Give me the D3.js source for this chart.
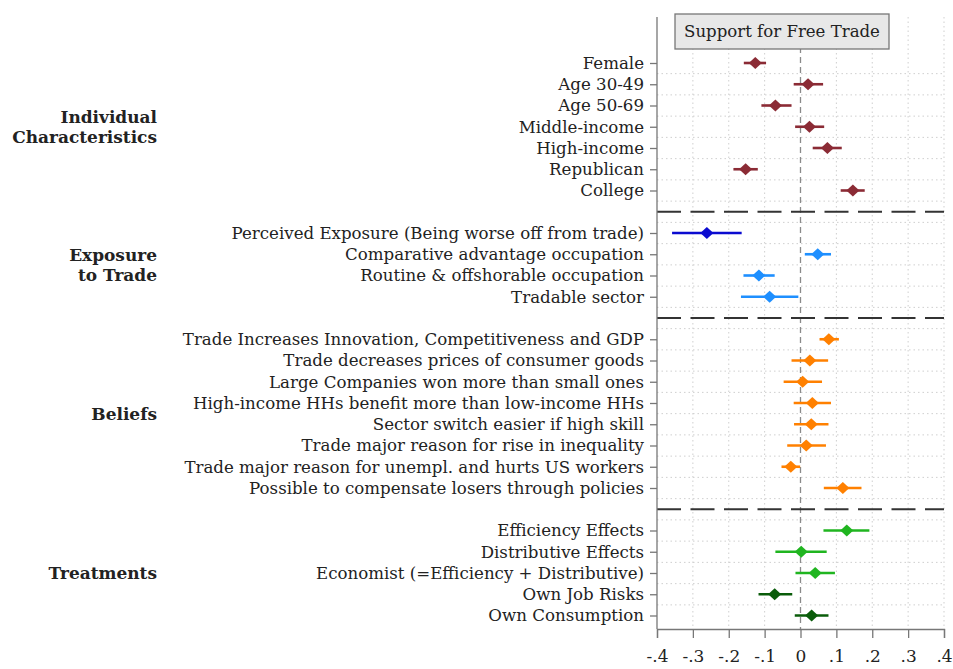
<!DOCTYPE html>
<html><head><meta charset="utf-8">
<script src="https://cdn.jsdelivr.net/npm/d3@7"></script>
<style>body{margin:0;background:#fff}svg{display:block}</style>
</head><body>
<script>
// ---- data ----
const groups = ["Individual Characteristics","Exposure to Trade","Beliefs","Treatments"];
const groupLines = [["Individual","Characteristics"],["Exposure","to Trade"],["Beliefs"],["Treatments"]];
const labels = [
 ["Female","Age 30-49","Age 50-69","Middle-income","High-income","Republican","College"],
 ["Perceived Exposure (Being worse off from trade)","Comparative advantage occupation","Routine & offshorable occupation","Tradable sector"],
 ["Trade Increases Innovation, Competitiveness and GDP","Trade decreases prices of consumer goods","Large Companies won more than small ones","High-income HHs benefit more than low-income HHs","Sector switch easier if high skill","Trade major reason for rise in inequality","Trade major reason for unempl. and hurts US workers","Possible to compensate losers through policies"],
 ["Efficiency Effects","Distributive Effects","Economist (=Efficiency + Distributive)","Own Job Risks","Own Consumption"]
];
const estimates = [
 [-0.126, 0.021, -0.070, 0.025, 0.075, -0.153, 0.146],
 [-0.261, 0.048, -0.116, -0.086],
 [0.079, 0.026, 0.006, 0.033, 0.030, 0.016, -0.027, 0.118],
 [0.129, 0.002, 0.041, -0.072, 0.031]
];
const ciLow = [
 [-0.158, -0.019, -0.109, -0.015, 0.034, -0.187, 0.112],
 [-0.358, 0.012, -0.159, -0.166],
 [0.053, -0.025, -0.047, -0.019, -0.018, -0.037, -0.053, 0.065],
 [0.064, -0.070, -0.014, -0.117, -0.016]
];
const ciHigh = [
 [-0.096, 0.063, -0.025, 0.066, 0.115, -0.119, 0.179],
 [-0.164, 0.085, -0.072, -0.006],
 [0.107, 0.077, 0.060, 0.085, 0.078, 0.071, -0.001, 0.170],
 [0.192, 0.073, 0.096, -0.023, 0.078]
];
const colorKeys = [
 ["ind","ind","ind","ind","ind","ind","ind"],
 ["perc","exp","exp","exp"],
 ["bel","bel","bel","bel","bel","bel","bel","bel"],
 ["trt","trt","trt","own","own"]
];
const palette = {ind:"#8b2b35", perc:"#0b0bd0", exp:"#1e8fff", bel:"#ff8000", trt:"#20b520", own:"#0a5c0a"};
const xTicks = [-0.4,-0.3,-0.2,-0.1,0,0.1,0.2,0.3,0.4];
const xTickLabels = ["-.4","-.3","-.2","-.1","0",".1",".2",".3",".4"];
const title = "Support for Free Trade";

// ---- build rows with slots (separators take one slot) ----
const rows = [], seps = [], groupSlots = [];
let slot = 0;
labels.forEach((g, gi) => {
  const start = slot;
  g.forEach((lab, i) => {
    rows.push({label: lab, est: estimates[gi][i], lo: ciLow[gi][i], hi: ciHigh[gi][i], color: palette[colorKeys[gi][i]], slot});
    slot++;
  });
  groupSlots.push((start + slot - 1) / 2);
  if (gi < labels.length - 1) { seps.push(slot); slot++; }
});
const nSlots = slot; // 27

const W = 953, H = 669;
const plotL = 657, plotR = 944, plotT = 17, plotB = 629;
const x = d3.scaleLinear().domain([-0.4, 0.4]).range([plotL, plotR]);
const y = d3.scaleLinear().domain([0, nSlots - 1]).range([63, 615.5]);

const svg = d3.select("body").append("svg").attr("width", W).attr("height", H);
const serif = "'DejaVu Serif','Liberation Serif',serif";

// font size fitted to a target text width
function fitSize(str, target, weight) {
  const t = svg.append("text").attr("font-family", serif).attr("font-size", 20).attr("font-weight", weight || "normal").text(str);
  const w = t.node().getComputedTextLength();
  t.remove();
  return 20 * target / w;
}
const labelSize = fitSize(labels[1][0], 413);
const groupSize = fitSize("Characteristics", 145, "bold");
const titleSize = fitSize(title, 196);

// vertical grid
svg.append("g").selectAll("line").data(xTicks.filter(t => t !== 0 && t !== -0.4)).join("line")
  .attr("x1", d => x(d)).attr("x2", d => x(d)).attr("y1", plotT).attr("y2", plotB)
  .attr("stroke", "#cfcfcf").attr("stroke-width", 1).attr("stroke-dasharray", "1.5,3");
// horizontal grid at half slots
const halfSlots = d3.range(0, nSlots - 1).map(s => s + 0.5);
svg.append("g").selectAll("line").data(halfSlots).join("line")
  .attr("x1", plotL).attr("x2", plotR).attr("y1", d => y(d)).attr("y2", d => y(d))
  .attr("stroke", "#cfcfcf").attr("stroke-width", 1).attr("stroke-dasharray", "1.5,3");
// zero line
svg.append("line").attr("x1", x(0)).attr("x2", x(0)).attr("y1", plotT).attr("y2", plotB)
  .attr("stroke", "#8a8a8a").attr("stroke-width", 1.3).attr("stroke-dasharray", "6,4");

// separators
svg.append("g").selectAll("line").data(seps).join("line")
  .attr("x1", plotL).attr("x2", plotR).attr("y1", d => y(d)).attr("y2", d => y(d))
  .attr("stroke", "#333").attr("stroke-width", 2).attr("stroke-dasharray", "24,9.5");

// axes
const xAxis = d3.axisBottom(x).tickValues(xTicks).tickFormat((d, i) => xTickLabels[i]).tickSize(9).tickPadding(12);
const gx = svg.append("g").attr("transform", `translate(0,${plotB})`).call(xAxis);
gx.select(".domain").attr("stroke", "#777").attr("stroke-width", 1.3);
gx.selectAll(".tick line").attr("stroke", "#777").attr("stroke-width", 1.3);
gx.selectAll(".tick text").attr("font-family", serif).attr("font-size", labelSize * 1.02).attr("fill", "#222");

const yAxis = d3.axisLeft(y).tickValues(rows.map(r => r.slot)).tickFormat((d) => rows.find(r => r.slot === d).label).tickSize(7).tickPadding(6);
const gy = svg.append("g").attr("transform", `translate(${plotL},0)`).call(yAxis);
gy.select(".domain").attr("d", `M0,${plotT}V${plotB}`).attr("stroke", "#777").attr("stroke-width", 1.3);
gy.selectAll(".tick line").attr("stroke", "#777").attr("stroke-width", 1.3);
gy.selectAll(".tick text").attr("font-family", serif).attr("font-size", labelSize).attr("fill", "#222");

// CIs and markers
const marks = svg.append("g");
marks.selectAll("line").data(rows).join("line")
  .attr("x1", d => x(d.lo)).attr("x2", d => x(d.hi)).attr("y1", d => y(d.slot)).attr("y2", d => y(d.slot))
  .attr("stroke", d => d.color).attr("stroke-width", 2.6);
marks.selectAll("path").data(rows).join("path")
  .attr("d", d => { const cx = x(d.est), cy = y(d.slot); return `M${cx-6.5},${cy}L${cx},${cy-6}L${cx+6.5},${cy}L${cx},${cy+6}Z`; })
  .attr("fill", d => d.color);

// group labels
groupLines.forEach((lines, gi) => {
  const cy = y(groupSlots[gi]);
  const t = svg.append("text").attr("x", 157).attr("text-anchor", "end")
    .attr("font-family", serif).attr("font-weight", "bold").attr("font-size", groupSize).attr("fill", "#222");
  lines.forEach((ln, li) => {
    t.append("tspan").attr("x", 157).attr("y", cy + (li - (lines.length - 1) / 2) * 20).attr("dy", "0.35em").text(ln);
  });
});

// title box
svg.append("rect").attr("x", 675).attr("y", 14).attr("width", 214).attr("height", 35)
  .attr("fill", "#e8e8e8").attr("stroke", "#777").attr("stroke-width", 1.3);
svg.append("text").attr("x", 782).attr("y", 31.5).attr("dy", "0.35em").attr("text-anchor", "middle")
  .attr("font-family", serif).attr("font-size", titleSize).attr("fill", "#222").text(title);
</script>
</body></html>
